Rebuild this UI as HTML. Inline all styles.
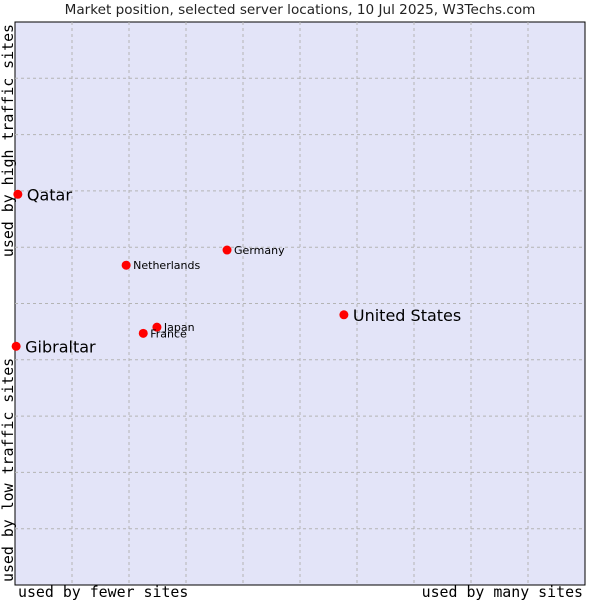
<!DOCTYPE html>
<html><head><meta charset="utf-8"><style>
body{margin:0;background:#fff;}
svg{display:block;}
</style></head><body>
<svg id="chart" width="600" height="600" xmlns="http://www.w3.org/2000/svg">
<text x="300" y="14" text-anchor="middle" font-family="DejaVu Sans, sans-serif" font-size="13.6" fill="#222">Market position, selected server locations, 10 Jul 2025, W3Techs.com</text>
<rect x="15" y="22" width="570" height="563" fill="#e3e4f8" stroke="#000" stroke-width="1"/>
<g id="grid"></g>
<g id="points"></g>
<text x="18" y="597" font-family="DejaVu Sans Mono, monospace" font-size="14.9" fill="#000">used by fewer sites</text>
<text x="583" y="597" text-anchor="end" font-family="DejaVu Sans Mono, monospace" font-size="14.9" fill="#000">used by many sites</text>
<text transform="translate(13,24) rotate(-90)" text-anchor="end" font-family="DejaVu Sans Mono, monospace" font-size="14.9" fill="#000">used by high traffic sites</text>
<text transform="translate(13,582) rotate(-90)" font-family="DejaVu Sans Mono, monospace" font-size="14.9" fill="#000">used by low traffic sites</text>
</svg>
<script>
const names = ["Qatar","Gibraltar","Netherlands","Germany","Japan","France","United States"];
const xVals = [0.5, 0.2, 19.5, 37.2, 24.9, 22.5, 57.7];
const yVals = [69.4, 42.4, 56.8, 59.5, 45.8, 44.7, 48.0];
const big = [true, true, false, false, false, false, true];
const gridTicks = [10,20,30,40,50,60,70,80,90];

const X0=15, W=570, Y0=22, H=563;
function sx(v){return X0 + v/100*W;}
function sy(v){return Y0 + H - v/100*H;}
const NS="http://www.w3.org/2000/svg";
const grid=document.getElementById('grid');
gridTicks.forEach(t=>{
  const v=document.createElementNS(NS,'line');
  
  
  v.setAttribute('x1',sx(t));v.setAttribute('x2',sx(t));v.setAttribute('y1',Y0);v.setAttribute('y2',Y0+H);
  v.setAttribute('stroke','#b4b4b4');v.setAttribute('stroke-dasharray','3,3');
  grid.appendChild(v);
  const h=document.createElementNS(NS,'line');
  
  
  h.setAttribute('x1',X0);h.setAttribute('x2',X0+W);h.setAttribute('y1',sy(t));h.setAttribute('y2',sy(t));
  h.setAttribute('stroke','#b4b4b4');h.setAttribute('stroke-dasharray','3,3');
  grid.appendChild(h);
});
const pts=document.getElementById('points');
names.forEach((n,i)=>{
  const x=sx(xVals[i]), y=sy(yVals[i]);
  const c=document.createElementNS(NS,'circle');
  
  
  c.setAttribute('cx',x);c.setAttribute('cy',y);c.setAttribute('r',4.5);c.setAttribute('fill','#f00');
  pts.appendChild(c);
  const t=document.createElementNS(NS,'text');
  
  
  t.setAttribute('x',x+(big[i]?9:7));t.setAttribute('y',y+(big[i]?6:4));
  t.setAttribute('font-family','DejaVu Sans, sans-serif');
  t.setAttribute('font-size',big[i]?16:11);
  t.setAttribute('fill','#000');
  t.textContent=n;
  pts.appendChild(t);
});
</script>
</body></html>
